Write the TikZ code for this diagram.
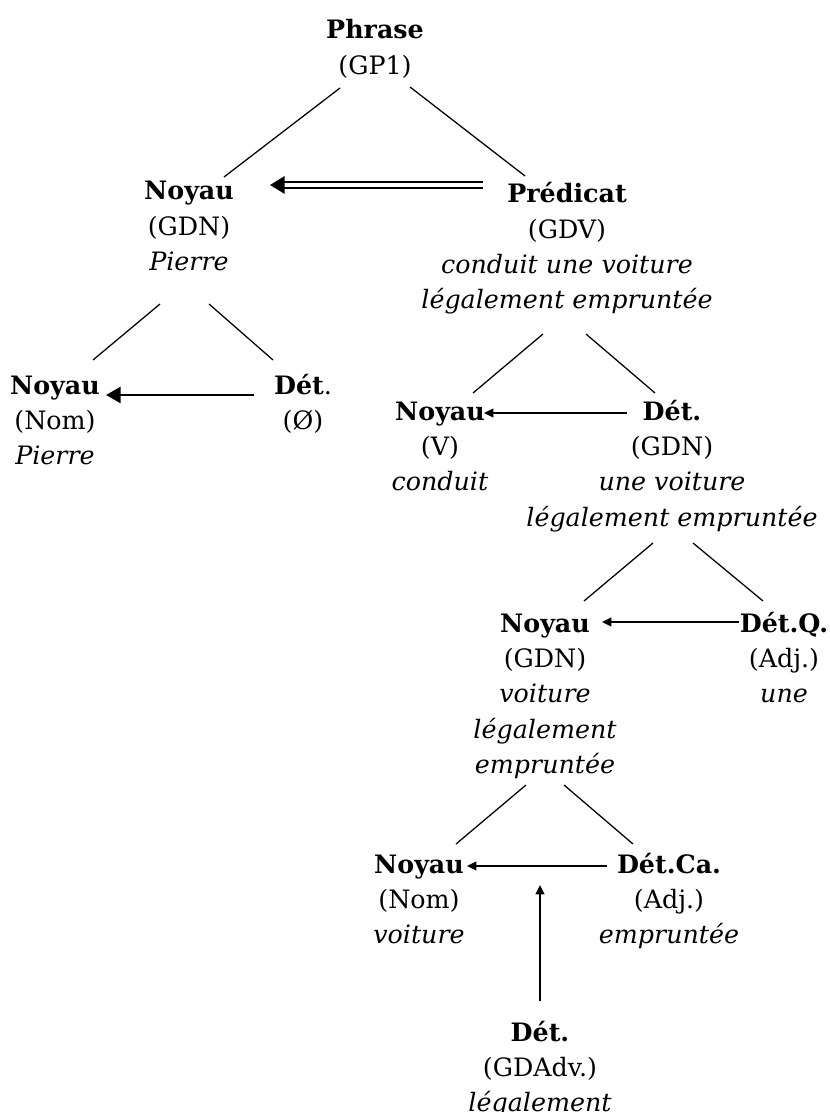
\documentclass[tikz,border=0pt]{standalone}
\usepackage{fontspec}
\setmainfont{DejaVu Serif}
\usetikzlibrary{arrows.meta}
\newcommand\dfont{\fontsize{19}{26.5}\selectfont}
\newcommand\cstack[1]{{\dfont\begin{tabular}[t]{@{}c@{}}#1\end{tabular}}}
\begin{document}
\begin{tikzpicture}[x=0.75pt,y=-0.75pt,
  cst/.style={anchor=base, inner sep=0pt},
  branch/.style={line width=0.95pt},
  dep/.style={line width=1.6pt, -{Triangle[length=7pt,width=6.5pt]}},
  depbig/.style={line width=2pt, -{Triangle[length=11pt,width=12pt]}},
  dbl/.style={double, double distance=2.4pt, line width=1.6pt, -{Triangle[length=11pt,width=13pt]}},
]
\clip (0,0) rectangle (830,1112);

\node[cst] (ph) at (375,39) {\cstack{\textbf{Phrase}\\(GP1)}};
\node[cst] (n1) at (189,200) {\cstack{\textbf{Noyau}\\(GDN)\\\textit{Pierre}}};
\node[cst] (p1) at (567,203) {\cstack{\textbf{Prédicat}\\(GDV)\\\textit{conduit une voiture}\\\textit{légalement empruntée}}};
\node[cst] (n2) at (55,394) {\cstack{\textbf{Noyau}\\(Nom)\\\textit{Pierre}}};
\node[cst] (d2) at (303,394) {\cstack{\textbf{Dét}.\\(Ø)}};
\node[cst] (n3) at (440,420) {\cstack{\textbf{Noyau}\\(V)\\\textit{conduit}}};
\node[cst] (d3) at (672,420) {\cstack{\textbf{Dét.}\\(GDN)\\\textit{une voiture}\\\textit{légalement empruntée}}};
\node[cst] (n4) at (545,632) {\cstack{\textbf{Noyau}\\(GDN)\\\textit{voiture}\\\textit{légalement}\\\textit{empruntée}}};
\node[cst] (d4) at (784,632) {\cstack{\textbf{Dét.Q.}\\(Adj.)\\\textit{une}}};
\node[cst] (n5) at (419,873) {\cstack{\textbf{Noyau}\\(Nom)\\\textit{voiture}}};
\node[cst] (d5) at (669,873) {\cstack{\textbf{Dét.Ca.}\\(Adj.)\\\textit{empruntée}}};
\node[cst] (d6) at (540,1041) {\cstack{\textbf{Dét.}\\(GDAdv.)\\\textit{légalement}}};
\coordinate (tgt) at (540,885);

% tree branches
\draw[branch] ([shift={(-35,49)}]ph.base) -- ([shift={(35,-23)}]n1.base);
\draw[branch] ([shift={(35,48)}]ph.base) -- ([shift={(-42,-27)}]p1.base);
\draw[branch] ([shift={(-29,104)}]n1.base) -- ([shift={(38,-34)}]n2.base);
\draw[branch] ([shift={(20,104)}]n1.base) -- ([shift={(-30,-34)}]d2.base);
\draw[branch] ([shift={(-24,131)}]p1.base) -- ([shift={(33,-27)}]n3.base);
\draw[branch] ([shift={(19,131)}]p1.base) -- ([shift={(-17,-27)}]d3.base);
\draw[branch] ([shift={(-19,123)}]d3.base) -- ([shift={(39,-31)}]n4.base);
\draw[branch] ([shift={(21,123)}]d3.base) -- ([shift={(-21,-31)}]d4.base);
\draw[branch] ([shift={(-19,153)}]n4.base) -- ([shift={(37,-29)}]n5.base);
\draw[branch] ([shift={(19,153)}]n4.base) -- ([shift={(-36,-29)}]d5.base);

% dependency arrows
\draw[dbl] ([shift={(-84,-18)}]p1.base) -- ([shift={(81,-15)}]n1.base);
\draw[depbig] ([shift={(-49,1)}]d2.base) -- ([shift={(51,1)}]n2.base);
\draw[dep] ([shift={(-45,-7)}]d3.base) -- ([shift={(44,-7)}]n3.base);
\draw[dep] ([shift={(-45,-10)}]d4.base) -- ([shift={(57,-10)}]n4.base);
\draw[dep] ([shift={(-62,-7)}]d5.base) -- ([shift={(48,-7)}]n5.base);
\draw[dep] ([shift={(0,-40)}]d6.base) -- (tgt);
\end{tikzpicture}
\end{document}
